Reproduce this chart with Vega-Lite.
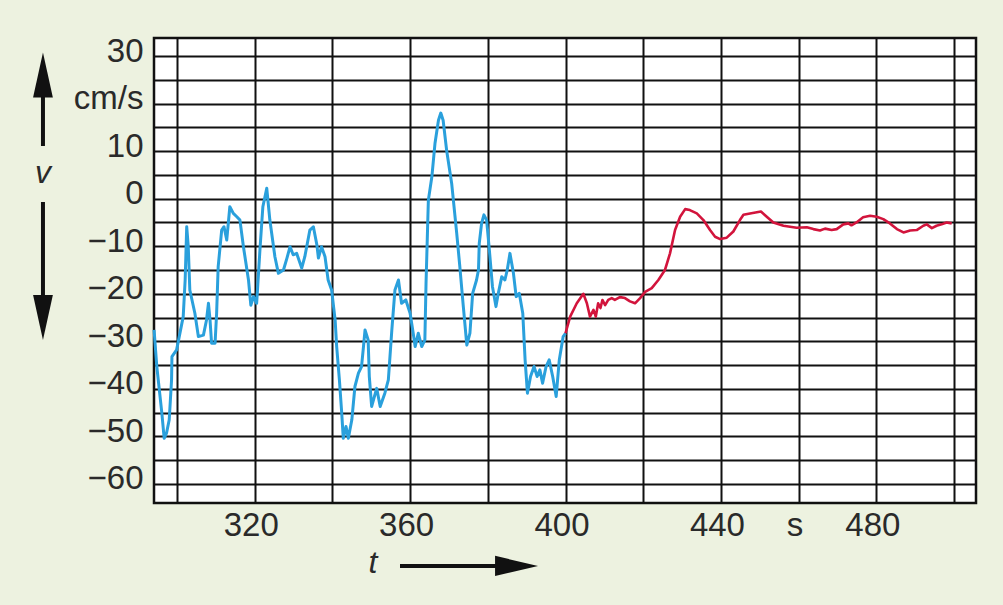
{
  "$schema": "https://vega.github.io/schema/vega-lite/v6.json",
  "autosize": {"type": "none"},
  "padding": {"left": 154, "top": 38, "right": 27, "bottom": 102},
  "width": 822,
  "height": 465,
  "background": "#edf2e0",
  "config": {
    "view": {"fill": "white", "stroke": "#111", "strokeWidth": 2.5},
    "font": "Liberation Sans"
  },
  "datasets": {
    "blue": [
      {"t":294.1,"v":-27.6},{"t":294.8,"v":-35.3},{"t":296.1,"v":-45.1},{"t":296.7,"v":-50.4},{"t":297.3,"v":-49.3},{"t":298.0,"v":-46.5},{"t":298.6,"v":-38.1},{"t":298.7,"v":-33.2},{"t":299.9,"v":-31.8},{"t":301.6,"v":-24.8},{"t":302.1,"v":-17.1},{"t":302.5,"v":-5.9},{"t":302.9,"v":-10.1},{"t":303.3,"v":-19.2},{"t":304.6,"v":-24.1},{"t":305.5,"v":-29.0},{"t":306.8,"v":-28.7},{"t":307.6,"v":-25.5},{"t":308.1,"v":-22.0},{"t":308.5,"v":-25.5},{"t":308.9,"v":-30.4},{"t":309.8,"v":-30.4},{"t":310.2,"v":-24.1},{"t":310.6,"v":-14.3},{"t":311.5,"v":-6.6},{"t":312.1,"v":-5.9},{"t":312.8,"v":-8.7},{"t":313.6,"v":-1.7},{"t":314.5,"v":-3.1},{"t":315.4,"v":-3.8},{"t":316.2,"v":-4.5},{"t":317.1,"v":-10.1},{"t":318.4,"v":-17.1},{"t":319.0,"v":-22.4},{"t":319.7,"v":-20.6},{"t":320.5,"v":-22.0},{"t":321.4,"v":-10.1},{"t":322.1,"v":-1.7},{"t":323.1,"v":2.2},{"t":323.9,"v":-4.5},{"t":325.2,"v":-12.2},{"t":326.1,"v":-15.7},{"t":327.4,"v":-15.0},{"t":328.3,"v":-12.5},{"t":329.1,"v":-10.1},{"t":329.9,"v":-11.8},{"t":330.8,"v":-11.5},{"t":332.1,"v":-14.6},{"t":332.9,"v":-12.2},{"t":334.2,"v":-6.6},{"t":335.1,"v":-5.9},{"t":336.0,"v":-9.7},{"t":336.4,"v":-12.5},{"t":337.2,"v":-10.1},{"t":338.1,"v":-12.2},{"t":338.9,"v":-17.1},{"t":339.8,"v":-19.2},{"t":340.7,"v":-25.5},{"t":341.1,"v":-31.1},{"t":341.8,"v":-38.1},{"t":342.4,"v":-45.1},{"t":342.8,"v":-50.4},{"t":343.5,"v":-47.9},{"t":344.1,"v":-50.4},{"t":345.0,"v":-46.5},{"t":345.8,"v":-39.5},{"t":346.7,"v":-36.7},{"t":347.5,"v":-35.3},{"t":348.0,"v":-31.1},{"t":348.4,"v":-27.6},{"t":349.2,"v":-29.7},{"t":349.5,"v":-37.4},{"t":350.1,"v":-43.7},{"t":351.4,"v":-39.9},{"t":352.3,"v":-43.7},{"t":353.5,"v":-40.9},{"t":354.4,"v":-38.1},{"t":355.3,"v":-27.6},{"t":356.1,"v":-19.2},{"t":357.0,"v":-17.1},{"t":357.8,"v":-22.0},{"t":358.9,"v":-21.3},{"t":360.0,"v":-24.1},{"t":360.8,"v":-28.3},{"t":361.3,"v":-31.1},{"t":362.1,"v":-28.3},{"t":363.0,"v":-31.1},{"t":363.8,"v":-29.7},{"t":364.1,"v":-17.8},{"t":364.7,"v":-0.3},{"t":365.6,"v":4.6},{"t":366.4,"v":11.6},{"t":367.3,"v":16.5},{"t":367.9,"v":18.0},{"t":368.5,"v":16.5},{"t":369.4,"v":10.2},{"t":370.7,"v":3.2},{"t":372.0,"v":-7.3},{"t":372.8,"v":-14.3},{"t":373.7,"v":-22.7},{"t":374.6,"v":-30.8},{"t":375.4,"v":-28.3},{"t":376.1,"v":-19.9},{"t":377.1,"v":-17.1},{"t":377.6,"v":-15.0},{"t":377.8,"v":-9.4},{"t":378.4,"v":-5.2},{"t":379.0,"v":-3.4},{"t":379.7,"v":-4.5},{"t":380.4,"v":-10.8},{"t":381.2,"v":-18.5},{"t":382.1,"v":-22.7},{"t":382.7,"v":-19.9},{"t":383.6,"v":-16.4},{"t":384.4,"v":-17.1},{"t":385.0,"v":-15.0},{"t":385.7,"v":-11.5},{"t":386.6,"v":-15.7},{"t":387.3,"v":-20.6},{"t":388.1,"v":-19.9},{"t":389.0,"v":-24.1},{"t":389.6,"v":-33.9},{"t":390.2,"v":-40.9},{"t":391.0,"v":-37.4},{"t":391.9,"v":-35.3},{"t":392.7,"v":-37.4},{"t":393.4,"v":-36.0},{"t":394.1,"v":-38.8},{"t":395.0,"v":-35.3},{"t":395.8,"v":-33.9},{"t":396.7,"v":-37.4},{"t":397.6,"v":-41.6},{"t":398.4,"v":-33.9},{"t":399.4,"v":-29.0},{"t":400.0,"v":-28.3}
    ],
    "red": [
      {"t":400.0,"v":-28.3},{"t":401.2,"v":-24.8},{"t":402.9,"v":-22.0},{"t":404.6,"v":-20.0},{"t":405.5,"v":-22.0},{"t":406.3,"v":-24.8},{"t":407.2,"v":-23.4},{"t":407.8,"v":-24.8},{"t":408.4,"v":-22.0},{"t":409.0,"v":-23.0},{"t":409.5,"v":-21.3},{"t":410.2,"v":-22.4},{"t":411.0,"v":-21.3},{"t":411.9,"v":-20.9},{"t":412.7,"v":-21.3},{"t":414.0,"v":-20.7},{"t":415.3,"v":-20.9},{"t":416.6,"v":-21.6},{"t":417.9,"v":-22.0},{"t":419.2,"v":-20.9},{"t":420.5,"v":-19.6},{"t":422.2,"v":-18.8},{"t":423.9,"v":-17.1},{"t":425.6,"v":-15.0},{"t":426.9,"v":-11.5},{"t":428.2,"v":-6.6},{"t":429.5,"v":-3.8},{"t":430.8,"v":-2.2},{"t":432.0,"v":-2.4},{"t":433.8,"v":-3.1},{"t":435.5,"v":-4.5},{"t":437.2,"v":-6.6},{"t":438.5,"v":-8.0},{"t":439.8,"v":-8.5},{"t":441.5,"v":-8.2},{"t":443.2,"v":-6.9},{"t":444.9,"v":-4.5},{"t":445.8,"v":-3.4},{"t":447.5,"v":-3.1},{"t":450.3,"v":-2.7},{"t":451.8,"v":-3.8},{"t":453.5,"v":-5.0},{"t":456.1,"v":-5.7},{"t":459.5,"v":-6.1},{"t":462.1,"v":-6.0},{"t":463.8,"v":-6.4},{"t":465.5,"v":-6.7},{"t":466.8,"v":-6.3},{"t":468.5,"v":-6.6},{"t":469.8,"v":-6.4},{"t":471.5,"v":-5.4},{"t":472.8,"v":-5.2},{"t":473.6,"v":-5.6},{"t":474.9,"v":-5.0},{"t":476.6,"v":-3.9},{"t":478.4,"v":-3.6},{"t":480.1,"v":-3.8},{"t":481.8,"v":-4.3},{"t":483.5,"v":-5.2},{"t":485.3,"v":-6.4},{"t":487.0,"v":-7.1},{"t":488.7,"v":-6.7},{"t":490.4,"v":-6.6},{"t":492.1,"v":-5.7},{"t":493.0,"v":-5.4},{"t":494.3,"v":-6.2},{"t":495.5,"v":-5.7},{"t":496.8,"v":-5.4},{"t":498.1,"v":-5.0},{"t":499.4,"v":-5.2}
    ]
  },
  "encoding": {
    "x": {
      "type": "quantitative",
      "scale": {"domain": [294.08, 505.66], "nice": false, "zero": false},
      "axis": {
        "title": null,
        "values": [300, 320, 340, 360, 380, 400, 420, 440, 460, 480, 500],
        "labelExpr": "datum.value == 460 ? 's' : (indexof([320, 360, 400, 440, 480], datum.value) >= 0 ? datum.label : '')",
        "grid": true, "gridColor": "#111", "gridWidth": 2, "gridOpacity": 1,
        "domain": false, "ticks": false,
        "labelFont": "Liberation Sans", "labelFontSize": 33, "labelColor": "#2a2a2a",
        "labelPadding": 6, "labelOffset": -4, "labelOverlap": false, "labelFlush": false
      }
    },
    "y": {
      "type": "quantitative",
      "scale": {"domain": [-64.0, 33.79], "nice": false, "zero": false},
      "axis": {
        "title": null,
        "values": [-60, -55, -50, -45, -40, -35, -30, -25, -20, -15, -10, -5, 0, 5, 10, 15, 20, 25, 30],
        "labelExpr": "datum.value % 10 != 0 ? '' : (datum.value == 20 ? 'cm/s' : datum.label)",
        "grid": true, "gridColor": "#111", "gridWidth": 2, "gridOpacity": 1,
        "domain": false, "ticks": false,
        "labelFont": "Liberation Sans", "labelFontSize": 33, "labelColor": "#2a2a2a",
        "labelPadding": 11, "labelOffset": -5, "labelOverlap": false, "labelFlush": false
      }
    }
  },
  "layer": [
    {
      "data": {"name": "blue"},
      "mark": {"type": "line", "color": "#2aa0dc", "strokeWidth": 3, "strokeJoin": "round"},
      "encoding": {
        "x": {"field": "t", "type": "quantitative"},
        "y": {"field": "v", "type": "quantitative"},
        "order": {"value": null}
      }
    },
    {
      "data": {"name": "red"},
      "mark": {"type": "line", "color": "#d2143c", "strokeWidth": 2.6, "strokeJoin": "round"},
      "encoding": {
        "x": {"field": "t", "type": "quantitative"},
        "y": {"field": "v", "type": "quantitative"},
        "order": {"value": null}
      }
    },
    {
      "data": {"values": [{}]},
      "mark": {"type": "rule", "color": "#111", "strokeWidth": 4, "clip": false},
      "encoding": {
        "x": {"datum": 265.5, "type": "quantitative"},
        "y": {"datum": 22, "type": "quantitative"},
        "y2": {"datum": 11.08}
      }
    },
    {
      "data": {"values": [{}]},
      "mark": {"type": "rule", "color": "#111", "strokeWidth": 4, "clip": false},
      "encoding": {
        "x": {"datum": 265.5, "type": "quantitative"},
        "y": {"datum": -0.7, "type": "quantitative"},
        "y2": {"datum": -21}
      }
    },
    {
      "data": {"values": [{}]},
      "mark": {"type": "rule", "color": "#111", "strokeWidth": 4, "clip": false},
      "encoding": {
        "x": {"datum": 357.4, "type": "quantitative"},
        "x2": {"datum": 383},
        "y": {"datum": -77.24, "type": "quantitative"}
      }
    },
    {
      "data": {"values": [{}]},
      "mark": {"type": "point", "shape": "M0,-1L0.44,1L-0.44,1Z", "size": 2025, "filled": true, "color": "#111", "opacity": 1, "clip": false},
      "encoding": {
        "x": {"datum": 265.5, "type": "quantitative"},
        "y": {"datum": 26.0, "type": "quantitative"}
      }
    },
    {
      "data": {"values": [{}]},
      "mark": {"type": "point", "shape": "M0,1L0.44,-1L-0.44,-1Z", "size": 2025, "filled": true, "color": "#111", "opacity": 1, "clip": false},
      "encoding": {
        "x": {"datum": 265.5, "type": "quantitative"},
        "y": {"datum": -24.99, "type": "quantitative"}
      }
    },
    {
      "data": {"values": [{}]},
      "mark": {"type": "point", "shape": "M1,0L-1,-0.47L-1,0.47Z", "size": 1849, "filled": true, "color": "#111", "opacity": 1, "clip": false},
      "encoding": {
        "x": {"datum": 387.4, "type": "quantitative"},
        "y": {"datum": -77.24, "type": "quantitative"}
      }
    },
    {
      "data": {"values": [{"label": "v"}]},
      "mark": {"type": "text", "font": "Liberation Sans", "fontStyle": "italic", "fontSize": 32, "color": "#2a2a2a", "align": "center", "baseline": "middle", "clip": false},
      "encoding": {
        "x": {"datum": 265.5, "type": "quantitative"},
        "y": {"datum": 5.5, "type": "quantitative"},
        "text": {"field": "label"}
      }
    },
    {
      "data": {"values": [{"label": "t"}]},
      "mark": {"type": "text", "font": "Liberation Sans", "fontStyle": "italic", "fontSize": 32, "color": "#2a2a2a", "align": "center", "baseline": "middle", "clip": false},
      "encoding": {
        "x": {"datum": 350.45, "type": "quantitative"},
        "y": {"datum": -76.6, "type": "quantitative"},
        "text": {"field": "label"}
      }
    }
  ]
}
